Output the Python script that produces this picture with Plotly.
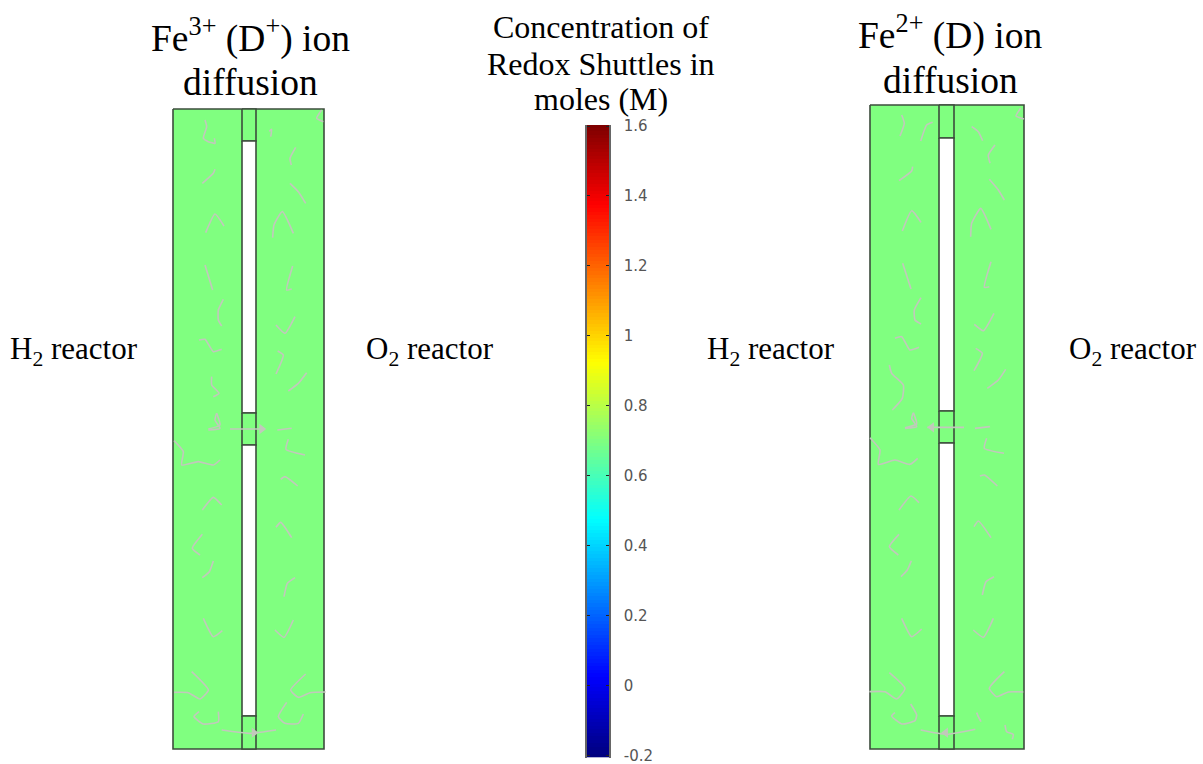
import numpy as np
import plotly.graph_objects as go

W, H = 1203, 764
GREEN = "#80ff80"
EDGE = "#3c4c3c"
STREAM = "#c2c8bc"
SERIF = "Liberation Serif"

# colour bar
bar_ticks = [1.6, 1.4, 1.2, 1, 0.8, 0.6, 0.4, 0.2, 0, -0.2]
bar_labels = ["1.6", "1.4", "1.2", "1", "0.8", "0.6", "0.4", "0.2", "0", "-0.2"]
jet = [[0, "#00007f"], [0.125, "#0000ff"], [0.375, "#00ffff"], [0.625, "#ffff00"], [0.875, "#ff0000"], [1, "#7f0000"]]

# panel geometry: x0, x1, channel x0, x1, top, bottom, channel breaks
panel_a = dict(x=(173, 324), ch=(242, 256), top=109, bottom=749, gaps=[(141, 413), (445, 716)])
panel_b = dict(x=(870, 1024), ch=(939, 954), top=105, bottom=749, gaps=[(138, 411), (443, 716)])

# streamlines, read as (x, y) offsets from the crop origins, at 3x
a_top = [
    [(165,90),(170,110),(160,145),(175,155),(195,160),(193,145)],
    [(157,280),(190,250),(195,238)],
    [(167,428),(195,372),(222,408)],
    [(165,525),(188,600)],
    [(220,628),(205,660),(205,690),(215,708)],
    [(147,750),(165,748),(190,785),(215,778)],
    [(185,860),(185,885),(207,910),(190,920)],
    [(200,970),(195,990),(210,1015),(175,1020)],
    [(362,140),(365,118),(358,124)],
    [(437,172),(420,205),(424,225)],
    [(420,280),(445,305),(467,340)],
    [(368,443),(372,405),(397,365),(430,430)],
    [(428,528),(410,600),(425,597)],
    [(435,680),(405,730),(378,705)],
    [(383,783),(400,795),(378,852)],
    [(415,903),(445,880),(470,848)],
    [(515,60),(500,85),(520,95)],
]
a_bottom = [
    [(200,40),(210,75),(175,87)],
    [(240,87),(340,87)],
    [(382,90),(425,85)],
    [(415,118),(408,148),(465,165)],
    [(72,122),(100,155),(95,195),(145,185),(190,195),(210,180)],
    [(157,330),(190,292),(215,315)],
    [(157,403),(127,445),(150,465)],
    [(157,533),(178,515),(190,483)],
    [(160,655),(190,710),(217,692)],
    [(125,815),(175,870),(150,897),(115,878),(72,877)],
    [(147,935),(132,950),(160,972),(205,965),(205,935)],
    [(215,990),(300,1000),(378,990)],
    [(392,238),(405,230),(443,258)],
    [(378,382),(392,367),(425,413)],
    [(435,533),(412,550),(402,590)],
    [(430,660),(402,712),(375,690)],
    [(467,822),(422,870),(445,892),(480,878),(527,876)],
    [(410,907),(385,950),(405,970),(445,970),(460,942)],
]
b_top = [
    [(155,75),(163,100),(150,138)],
    [(212,153),(230,105),(248,97)],
    [(147,272),(185,243),(188,230)],
    [(157,423),(185,362),(213,397)],
    [(158,520),(183,597)],
    [(213,623),(193,660),(195,690),(213,702)],
    [(135,745),(155,740),(180,780),(207,772)],
    [(118,825),(125,850),(160,885),(157,925),(127,960)],
    [(190,968),(185,985),(200,1010),(165,1015)],
    [(365,110),(385,125),(398,152)],
    [(435,165),(415,195),(420,220)],
    [(418,268),(445,300),(463,330)],
    [(362,440),(365,400),(392,355),(423,418)],
    [(423,515),(403,592),(418,590)],
    [(432,670),(400,722),(373,703)],
    [(377,775),(397,790),(372,842)],
    [(412,895),(445,870),(467,838)],
    [(512,55),(498,78),(522,87)],
]
b_bottom = [
    [(190,38),(200,72),(165,83)],
    [(232,82),(342,82)],
    [(375,85),(420,80)],
    [(410,115),(403,145),(462,160)],
    [(60,113),(90,150),(85,193),(135,180),(180,193),(203,175)],
    [(147,330),(183,288),(207,308)],
    [(147,403),(118,440),(145,465)],
    [(153,530),(172,510),(184,482)],
    [(155,655),(185,710),(215,687)],
    [(118,818),(165,865),(140,897),(105,875),(58,875)],
    [(135,938),(125,948),(155,972),(195,962),(200,945),(182,912)],
    [(212,990),(290,1003),(376,988)],
    [(390,228),(403,225),(442,258)],
    [(372,380),(385,363),(423,413)],
    [(432,530),(408,545),(397,585)],
    [(430,655),(400,712),(370,690)],
    [(463,815),(418,865),(440,890),(475,876),(520,876)],
    [(380,938),(385,950),(393,965)],
    [(465,975),(470,995),(490,1003),(487,1018)],
]
# arrow heads: crop x, crop y, symbol
a_bottom_arrows = [(335,87,"triangle-right"),(312,998,"triangle-right")]
b_bottom_arrows = [(245,82,"triangle-left"),(287,998,"triangle-left")]

fig = go.Figure()


def rect(x0, x1, y0, y1, fill, width=1.6):
    fig.add_trace(go.Scatter(
        x=[x0, x1, x1, x0, x0], y=[y0, y0, y1, y1, y0], mode="lines", fill="toself",
        fillcolor=fill, line=dict(color=EDGE, width=width), hoverinfo="skip", showlegend=False))


def panel(p):
    x0, x1 = p["x"]
    c0, c1 = p["ch"]
    rect(x0, x1, p["top"], p["bottom"], GREEN)
    prev = p["top"]
    for g0, g1 in p["gaps"]:
        rect(c0, c1, prev, g0, GREEN)
        rect(c0, c1, g0, g1, "#ffffff")
        prev = g1
    rect(c0, c1, prev, p["bottom"], GREEN)


def streams(lines, ox, oy):
    for line in lines:
        fig.add_trace(go.Scatter(
            x=[ox + q[0] / 3 for q in line], y=[oy + q[1] / 3 for q in line], mode="lines",
            line=dict(color=STREAM, width=1.6, shape="spline", smoothing=0.5),
            hoverinfo="skip", showlegend=False))


def arrows(items, ox, oy):
    for ax, ay, sym in items:
        fig.add_trace(go.Scatter(
            x=[ox + ax / 3], y=[oy + ay / 3], mode="markers",
            marker=dict(symbol=sym, size=9, color=STREAM, line=dict(width=0)),
            hoverinfo="skip", showlegend=False))


panel(panel_a)
panel(panel_b)
streams(a_top, 150, 90)
streams(a_bottom, 150, 400)
streams(b_top, 850, 90)
streams(b_bottom, 850, 400)
arrows(a_bottom_arrows, 150, 400)
arrows(b_bottom_arrows, 850, 400)

levels = np.linspace(-0.2, 1.6, 181)
fig.add_trace(go.Heatmap(
    x=[0, 1], y=levels, z=np.column_stack([levels, levels]), colorscale=jet, zmin=-0.2, zmax=1.6,
    showscale=False, hoverinfo="skip", xaxis="x2", yaxis="y2"))

texts = [
    (250.5, 36, "Fe<sup>3+</sup> (D<sup>+</sup>) ion", 37.5),
    (250.5, 82, "diffusion", 37.5),
    (950, 33, "Fe<sup>2+</sup> (D) ion", 37.5),
    (950, 80, "diffusion", 37.5),
    (601, 27, "Concentration of", 32),
    (601, 64, "Redox Shuttles in", 32),
    (601, 99, "moles (M)", 32),
    (74, 351, "H<sub>2</sub> reactor", 31),
    (429.5, 351, "O<sub>2</sub> reactor", 31),
    (771, 351, "H<sub>2</sub> reactor", 31),
    (1133, 351, "O<sub>2</sub> reactor", 31),
]
annotations = [dict(x=x, y=y, xref="x", yref="y", text=t, showarrow=False, xanchor="center", yanchor="middle",
                    font=dict(family=SERIF, size=s, color="#000000")) for x, y, t, s in texts]

fig.update_layout(
    width=W, height=H, margin=dict(l=0, r=0, t=0, b=0, autoexpand=False), paper_bgcolor="#ffffff",
    plot_bgcolor="#ffffff", showlegend=False, annotations=annotations,
    xaxis=dict(range=[0, W], domain=[0, 1], visible=False, fixedrange=True, automargin=False),
    yaxis=dict(range=[H, 0], domain=[0, 1], visible=False, fixedrange=True, automargin=False),
    xaxis2=dict(domain=[587 / W, 609 / W], range=[0, 1], visible=False, anchor="y2", fixedrange=True, automargin=False),
    yaxis2=dict(
        domain=[1 - 758 / H, 1 - 125 / H], range=[-0.207, 1.603], anchor="x2", side="right",
        tickmode="array", tickvals=bar_ticks, ticktext=bar_labels, ticks="inside", ticklen=3, tickwidth=1,
        tickcolor="#222222", mirror="ticks", showline=True, linecolor="#666666", linewidth=1.5,
        showgrid=False, zeroline=False, ticklabelstandoff=10, automargin=False, ticklabeloverflow="allow",
        tickfont=dict(family="DejaVu Sans", size=15, color="#555555"), fixedrange=True),
)
fig.write_html("out.html", config=dict(displayModeBar=False),
               post_script="document.body.style.margin='0';document.body.style.overflow='hidden';")
